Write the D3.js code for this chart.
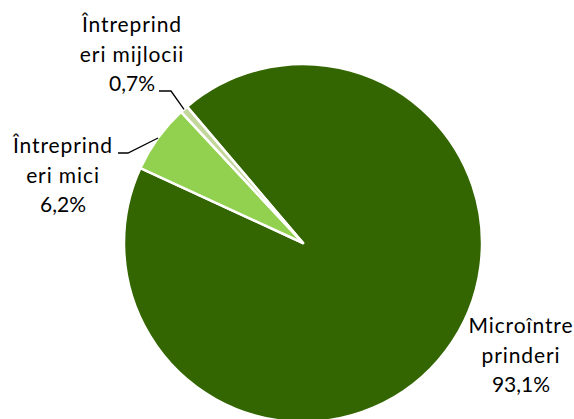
<!DOCTYPE html>
<html>
<head>
<meta charset="utf-8">
<script src="https://cdn.jsdelivr.net/npm/d3@7"></script>
<style>
  html, body { margin: 0; padding: 0; background: #fff; }
</style>
</head>
<body>
<div id="chart"></div>
<script>
// data
const categories = ["Microîntreprinderi", "Întreprinderi mici", "Întreprinderi mijlocii"];
const values = [93.1, 6.2, 0.7];
const valueLabels = ["93,1%", "6,2%", "0,7%"];
const labelLines = [
    ["Microîntre", "prinderi"],
    ["Întreprind", "eri mici"],
    ["Întreprind", "eri mijlocii"]
];
const colors = ["#336600", "#92d050", "#c3d69b"];

const W = 574, H = 419;
const CX = 303, CY = 243, R = 179;
const FONT = "Lato, 'Open Sans', sans-serif";
const LINE_H = 29.5;

// label anchor (centre x, first baseline y) and leader line elbow, per slice
const labelPos = [
    { x: 521, y: 333, leader: null },
    { x: 63, y: 153, leader: [118, 153, 128] },
    { x: 132, y: 32, leader: [159, 91, 171] }
];

var svg = d3.select("#chart").append("svg")
    .attr("width", W)
    .attr("height", H)
    .style("display", "block");

var pie = d3.pie()
    .sort(null)
    .startAngle(-40.4 / 180 * Math.PI)
    .endAngle(-40.4 / 180 * Math.PI + 2 * Math.PI)
    .value(d => d);

var arc = d3.arc().innerRadius(0).outerRadius(R);

var arcs = pie(values);

var g = svg.append("g").attr("transform", `translate(${CX},${CY})`);

g.selectAll("path.slice")
    .data(arcs)
    .enter().append("path")
    .attr("class", "slice")
    .attr("d", arc)
    .attr("fill", (d, i) => colors[i])
    .attr("stroke", "#fff")
    .attr("stroke-width", 2.5)
    .attr("stroke-linejoin", "round");

// leader lines
arcs.forEach((d, i) => {
    var p = labelPos[i];
    if (!p.leader) return;
    var mid = (d.startAngle + d.endAngle) / 2;
    var ex = CX + R * Math.sin(mid), ey = CY - R * Math.cos(mid);
    svg.append("path")
        .attr("d", `M${p.leader[0]},${p.leader[1]}H${p.leader[2]}L${ex},${ey}`)
        .attr("fill", "none")
        .attr("stroke", "#000")
        .attr("stroke-width", 1.3);
});

// labels
var label = svg.selectAll("text.label")
    .data(arcs)
    .enter().append("text")
    .attr("class", "label")
    .attr("text-anchor", "middle")
    .style("font-family", FONT)
    .style("font-size", "21px")
    .attr("fill", "#000");

label.each(function (d, i) {
    var t = d3.select(this);
    var lines = labelLines[i].concat([valueLabels[i]]);
    lines.forEach((s, k) => {
        t.append("tspan")
            .attr("x", labelPos[i].x)
            .attr("y", labelPos[i].y + k * LINE_H)
            .style("letter-spacing", k < 2 ? "0.9px" : "0px")
            .text(s);
    });
});
</script>
</body>
</html>
